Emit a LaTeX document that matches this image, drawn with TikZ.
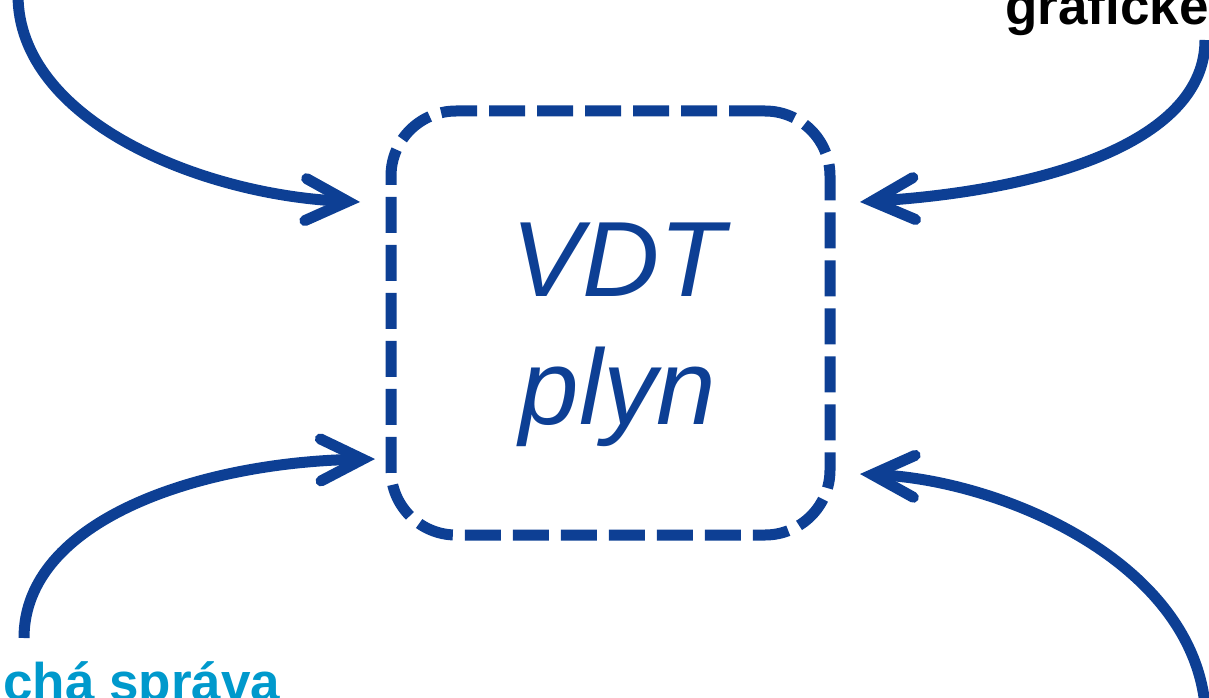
\documentclass[tikz,border=0pt]{standalone}
\usepackage{fontspec}
\setmainfont{Liberation Sans}
\usetikzlibrary{arrows.meta}
\definecolor{vdtblue}{RGB}{13,63,148}
\definecolor{vdtcyan}{RGB}{0,153,204}
\tikzset{
  flow/.style={draw=vdtblue, line width=11pt,
    -{Straight Barb[length=42pt, width=42pt, line cap=round, line join=miter]}},
  vdtbox/.style={draw=vdtblue, line width=11pt, rounded corners=65pt,
    dash pattern=on 36pt off 12pt, minimum width=439pt, minimum height=424pt,
    inner sep=0pt, rectangle},
  bigtxt/.style={text=vdtblue, font=\fontsize{107}{128}\selectfont\itshape, align=center, inner sep=0pt},
  sidetxt/.style={font=\fontsize{53}{60}\selectfont\bfseries, inner sep=0pt, anchor=base west}
}
\begin{document}
\begin{tikzpicture}[x=1pt, y=-1pt]
\useasboundingbox (0,0) rectangle (1209,698);
\clip (0,0) rectangle (1209,698);
\node[vdtbox] (box) at (610.5,323) {};
\node[bigtxt] (lbl) at (618,335) {VDT\\plyn};
\node[sidetxt, text=black] (graf) at (1005,25) {grafické};
\node[sidetxt, text=vdtcyan] (sprava) at (3,700) {chá správa};
% free ends
\coordinate (tlS) at (18,-5);
\coordinate (tlE) at (360,202);
\coordinate (trS) at (1205,40);
\coordinate (trE) at (860,202);
\coordinate (blS) at (24,638);
\coordinate (blE) at (375,459);
\coordinate (brS) at (1205,705);
\coordinate (brE) at (860,474);
\draw[flow] (tlS) .. controls (18,120) and (200,195) .. (tlE);
\draw[flow] (trS) .. controls (1205,140) and (1050,190) .. (trE);
\draw[flow] (blS) .. controls (24,520) and (200,462) .. (blE);
\draw[flow] (brS) .. controls (1190,560) and (1000,480) .. (brE);
\end{tikzpicture}
\end{document}
